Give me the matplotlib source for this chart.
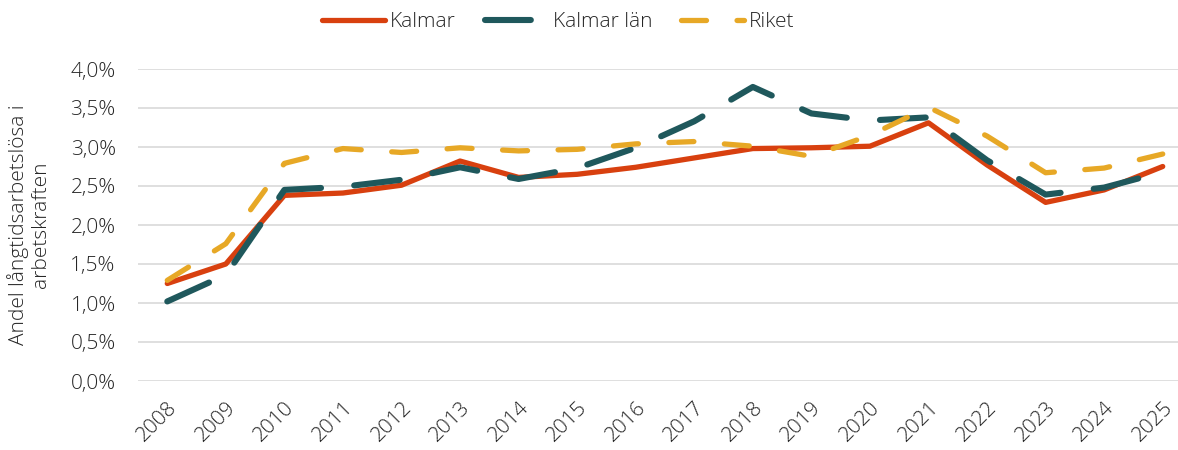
import matplotlib
matplotlib.use("Agg")
import matplotlib.pyplot as plt
import matplotlib.transforms as mtransforms
from matplotlib.ticker import FuncFormatter

plt.rcParams['font.family'] = ['Open Sans', 'DejaVu Sans']
plt.rcParams['font.weight'] = 'light'
plt.rcParams['axes.labelweight'] = 'light'
plt.rcParams['lines.scale_dashes'] = False

years = [str(y) for y in range(2008, 2026)]
kalmar = [1.25, 1.50, 2.38, 2.41, 2.51, 2.82, 2.61, 2.65, 2.74, 2.86, 2.98, 2.99, 3.01, 3.31, 2.77, 2.29, 2.45, 2.75]
kalmar_lan = [1.02, 1.36, 2.45, 2.49, 2.58, 2.74, 2.59, 2.73, 2.99, 3.33, 3.77, 3.43, 3.34, 3.38, 2.83, 2.39, 2.48, 2.68]
riket = [1.29, 1.76, 2.79, 2.98, 2.93, 2.99, 2.95, 2.97, 3.04, 3.07, 3.01, 2.88, 3.15, 3.51, 3.14, 2.67, 2.73, 2.91]

red = '#D8400F'
teal = '#1F585C'
yellow = '#E7A826'
text_col = '#262626'

fig = plt.figure(figsize=(11.78, 4.5), dpi=100)
ax = fig.add_axes([138 / 1178, 69 / 450, 1054 / 1178, 312 / 450])

x = range(len(years))
ax.plot(x, kalmar, color=red, lw=3.8, solid_capstyle='round', solid_joinstyle='round', label='Kalmar', zorder=3)
ax.plot(x, kalmar_lan, color=teal, lw=4.4, linestyle=(0, (33, 24)), dash_capstyle='round',
        dash_joinstyle='round', label='Kalmar län', zorder=4)
ax.plot(x, riket, color=yellow, lw=3.8, linestyle=(0, (18, 22)), dash_capstyle='round',
        dash_joinstyle='round', label='Riket', zorder=5)

ax.set_xlim(-0.5, len(years) - 0.5)
ax.set_ylim(0, 4)
ax.set_yticks([i * 0.5 for i in range(9)])
ax.yaxis.set_major_formatter(FuncFormatter(lambda v, p: f'{v:.1f}%'.replace('.', ',')))
ax.set_xticks(list(x))
ax.set_xticklabels(years, rotation=45, ha='right', rotation_mode='anchor')
shift = mtransforms.ScaledTranslation(-6 / 100, 0, fig.dpi_scale_trans)
for lbl in ax.get_xticklabels():
    lbl.set_transform(lbl.get_transform() + shift)
ax.grid(axis='y', color='#D9D9D9', lw=1.2)
ax.set_axisbelow(True)
for s in ax.spines.values():
    s.set_visible(False)
ax.tick_params(length=0, labelsize=15, labelcolor=text_col)
ax.tick_params(axis='y', pad=16)
ax.tick_params(axis='x', pad=12)

ax.set_ylabel('Andel långtidsarbetslösa i\narbetskraften', fontsize=15, color=text_col,
              labelpad=14, linespacing=1.15)

leg = fig.legend(loc='upper center', bbox_to_anchor=(0.474, 1.015), ncol=3, frameon=False,
                 fontsize=15, handlelength=3.0, columnspacing=1.4, handletextpad=0.25)
for t in leg.get_texts():
    t.set_color(text_col)

fig.savefig('out.png', dpi=100)
